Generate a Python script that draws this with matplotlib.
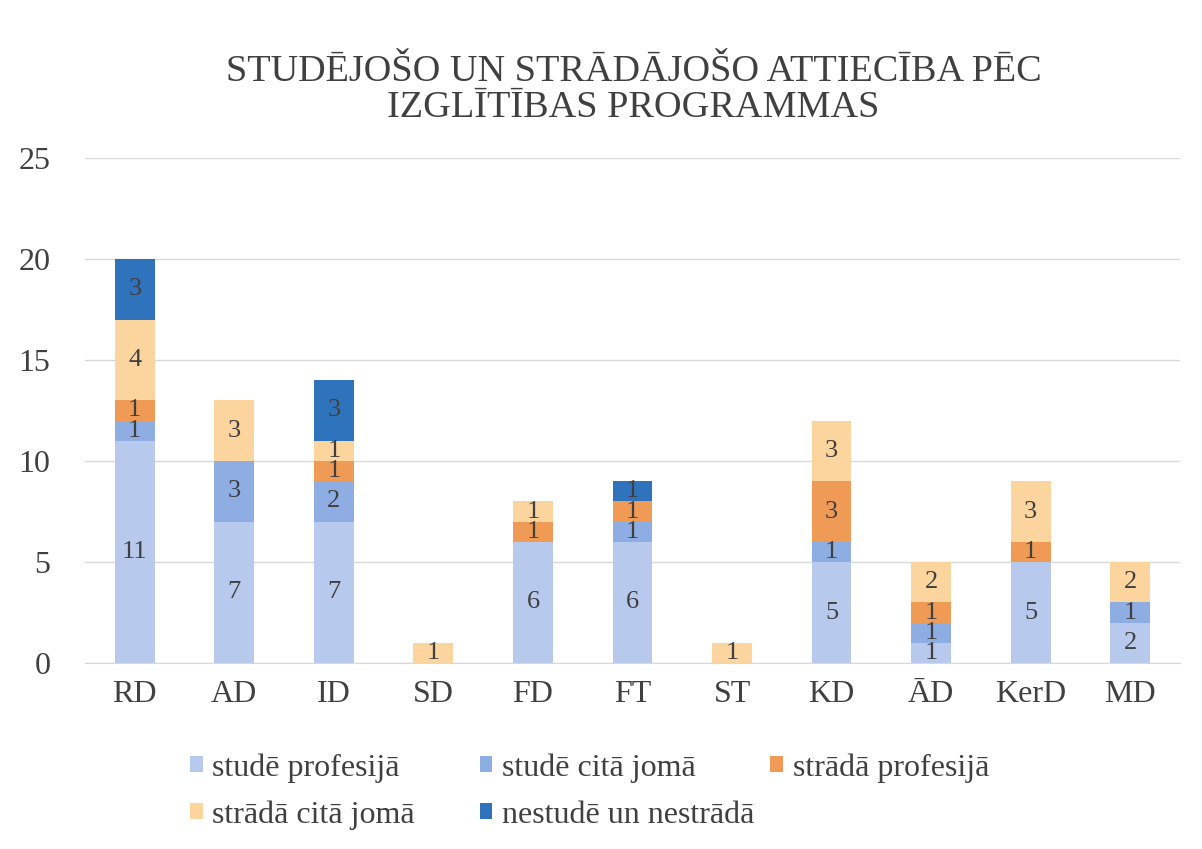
import numpy as np
import matplotlib.pyplot as plt

programs = ['RD', 'AD', 'ID', 'SD', 'FD', 'FT', 'ST', 'KD', 'ĀD', 'KerD', 'MD']
series_names = ['studē profesijā', 'studē citā jomā', 'strādā profesijā',
                'strādā citā jomā', 'nestudē un nestrādā']
stude_profesija = [11, 7, 7, 0, 6, 6, 0, 5, 1, 5, 2]
stude_cita = [1, 3, 2, 0, 0, 1, 0, 1, 1, 0, 1]
strada_profesija = [1, 0, 1, 0, 1, 1, 0, 3, 1, 1, 0]
strada_cita = [4, 3, 1, 1, 1, 0, 1, 3, 2, 3, 2]
nestude = [3, 0, 3, 0, 0, 1, 0, 0, 0, 0, 0]
colors = ['#b7c9ec', '#8eaee3', '#ef9a55', '#fbd49e', '#2f73bd']

plt.rcParams['font.family'] = ['Liberation Serif', 'DejaVu Serif']

fig = plt.figure(figsize=(12.02, 8.49), dpi=100)
ax = fig.add_axes([0.0707, 0.219, 0.911, 0.595])

x = np.arange(len(programs))
bottom = np.zeros(len(programs))
handles = []
for name, vals, col in zip(series_names,
                           [stude_profesija, stude_cita, strada_profesija, strada_cita, nestude],
                           colors):
    vals = np.array(vals, dtype=float)
    bars = ax.bar(x, vals, 0.4, bottom=bottom, color=col, label=name, zorder=2)
    handles.append(bars)
    for xi, b, v in zip(x, bottom, vals):
        if v > 0:
            ax.text(xi, b + v / 2, f'{int(v)}', ha='center', va='center',
                    fontsize=19, color='#404040', zorder=3)
    bottom += vals

ax.set_xlim(-0.5, len(programs) - 0.5)
ax.set_ylim(0, 25)
ax.set_yticks([0, 5, 10, 15, 20, 25])
ax.yaxis.grid(True, color='#d9d9d9', linewidth=1, zorder=0)
ax.set_xticks(x)
ax.set_xticklabels(programs)
ax.tick_params(axis='both', length=0, labelsize=23, colors='#404040')
ax.tick_params(axis='x', pad=12)
ax.tick_params(axis='y', pad=25)
for s in ['top', 'right', 'left']:
    ax.spines[s].set_visible(False)
ax.spines['bottom'].set_color('#d9d9d9')

fig.text(0.527, 0.894, 'STUDĒJOŠO UN STRĀDĀJOŠO ATTIECĪBA PĒC\nIZGLĪTĪBAS PROGRAMMAS',
         ha='center', va='center', fontsize=27.5, color='#404040', linespacing=1.06)

# legend entries placed like the original (3 on first row, 2 on second)
leg_pos = [(0.158, 0.0954), (0.399, 0.0954), (0.641, 0.0954),
           (0.158, 0.040), (0.399, 0.040)]
for h, name, (lx, ly) in zip(handles, series_names, leg_pos):
    fig.legend([h], [name], loc='center left', bbox_to_anchor=(lx, ly),
               frameon=False, fontsize=23, handlelength=0.4, handleheight=0.4,
               handletextpad=0.3, borderpad=0, borderaxespad=0,
               labelcolor='#404040')

fig.savefig('out.png', dpi=100)
